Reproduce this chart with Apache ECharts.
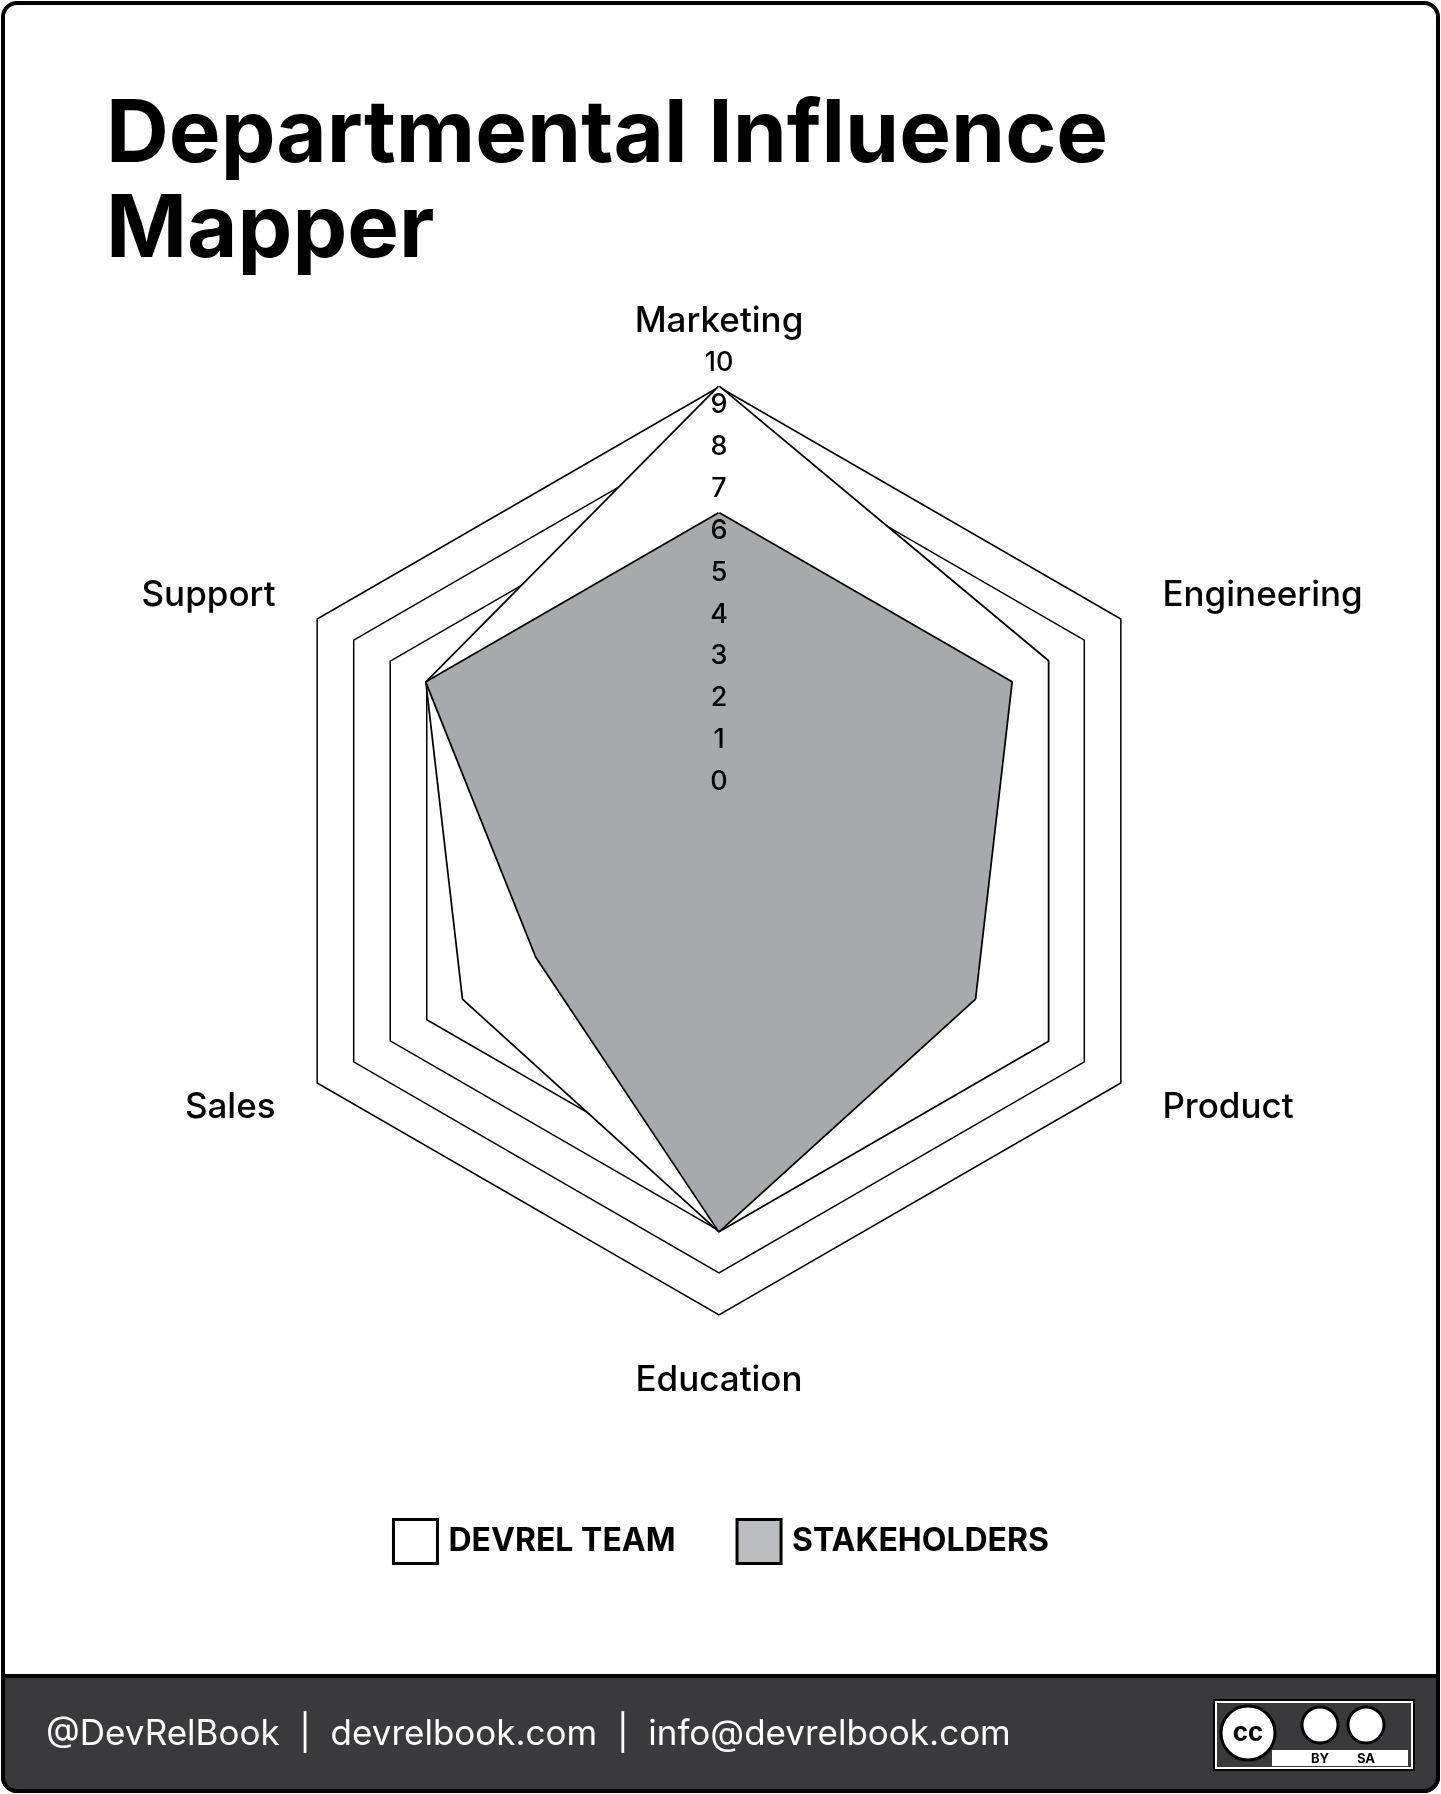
<!DOCTYPE html>
<html><head><meta charset="utf-8">
<script src="https://cdn.jsdelivr.net/npm/echarts@6/dist/echarts.min.js"></script>
<style>html,body{margin:0;padding:0;background:#fff}#c{width:1441px;height:1794px}</style>
</head><body><div id="c"></div>
<script>
// clockwise from top
const categories = ['Marketing','Support','Sales','Education','Product','Engineering'];
const devrelTeam = [11, 8, 7, 9, 9, 9];
const stakeholders = [8, 8, 5, 9, 7, 8];
const tickLabels = ['0','1','2','3','4','5','6','7','8','9','10'];
const FONT = 'Inter, "Noto Sans", sans-serif';

const chart = echarts.init(document.getElementById('c'));
const cx = 719, cy = 851, R = 464;
const graphics = [
  {type:'rect', shape:{x:3,y:3,width:1435,height:1788,r:14}, style:{fill:'none',stroke:'#000',lineWidth:4}, z:10},
  {type:'rect', shape:{x:3,y:1676,width:1435,height:115,r:[0,0,14,14]}, style:{fill:'#3a3a3c',stroke:'#000',lineWidth:4}},
  {type:'text', left:106, top:88, style:{text:'Departmental Influence\nMapper', font:'bold 87px '+FONT, fill:'#000', lineHeight:95}},
  {type:'text', left:46, top:1717, style:{text:'@DevRelBook  |  devrelbook.com  |  info@devrelbook.com', font:'35px '+FONT, fill:'#fff', letterSpacing:1}},
  {type:'rect', shape:{x:1214,y:1700,width:200,height:70}, style:{fill:'#fff',stroke:'#000',lineWidth:2}},
  {type:'rect', shape:{x:1217,y:1703,width:194,height:64}, style:{fill:'#3a3a3c'}},
  {type:'rect', shape:{x:1272,y:1750,width:136,height:16}, style:{fill:'#fff'}},
  {type:'circle', shape:{cx:1248,cy:1733,r:27}, style:{fill:'#fff',stroke:'#000',lineWidth:3}},
  {type:'text', x:1248, y:1733, style:{text:'cc', font:'bold 26px '+FONT, fill:'#000', align:'center', verticalAlign:'middle'}},
  {type:'circle', shape:{cx:1320,cy:1725,r:18}, style:{fill:'#fff',stroke:'#000',lineWidth:3}},
  {type:'circle', shape:{cx:1366,cy:1725,r:18}, style:{fill:'#fff',stroke:'#000',lineWidth:3}},
  {type:'text', x:1320, y:1759, style:{text:'BY', font:'bold 13px '+FONT, fill:'#000', align:'center', verticalAlign:'middle'}},
  {type:'text', x:1366, y:1759, style:{text:'SA', font:'bold 13px '+FONT, fill:'#000', align:'center', verticalAlign:'middle'}}
];
tickLabels.forEach((t,i)=>{
  graphics.push({type:'text', x:cx, y:782 - i*41.9, z:20, style:{text:t, font:'500 27px '+FONT, fill:'#000', align:'center', verticalAlign:'middle'}});
});

const T = 'transparent';
chart.setOption({
  animation:false,
  graphic: graphics,
  legend:{
    top:1513, left:'center', itemWidth:44, itemHeight:44, itemGap:60,
    textStyle:{fontFamily:FONT, fontSize:32, fontWeight:'bold', color:'#000', padding:[0,0,0,6]},
    data:[
      {name:'DEVREL TEAM', itemStyle:{color:'#fff', borderColor:'#000', borderWidth:3}},
      {name:'STAKEHOLDERS', itemStyle:{color:'#bcbdc0', borderColor:'#000', borderWidth:3}}
    ],
    icon:'rect'
  },
  radar:{
    center:[cx,cy], radius:R, startAngle:90, shape:'polygon', splitNumber:11,
    indicator: categories.map(n=>({name:n, max:11, min:0})),
    axisName:{color:'#000', fontFamily:FONT, fontSize:35, fontWeight:500},
    nameGap:48,
    axisLine:{show:false},
    splitArea:{show:false},
    splitLine:{lineStyle:{color:[T,T,T,T,T,T,T,T,'#000','#000','#000','#000'], width:1.5}}
  },
  series:[{
    type:'radar', symbol:'none',
    lineStyle:{color:'#000', width:3.5},
    data:[
      {name:'DEVREL TEAM', value:devrelTeam, lineStyle:{color:'#000',width:3.5}, areaStyle:{color:'#fff',opacity:1}, itemStyle:{color:'#fff'}},
      {name:'STAKEHOLDERS', value:stakeholders, lineStyle:{color:'#000',width:3.5}, areaStyle:{color:'#a8a9ac',opacity:1}, itemStyle:{color:'#bcbdc0'}}
    ]
  }]
});
</script></body></html>
